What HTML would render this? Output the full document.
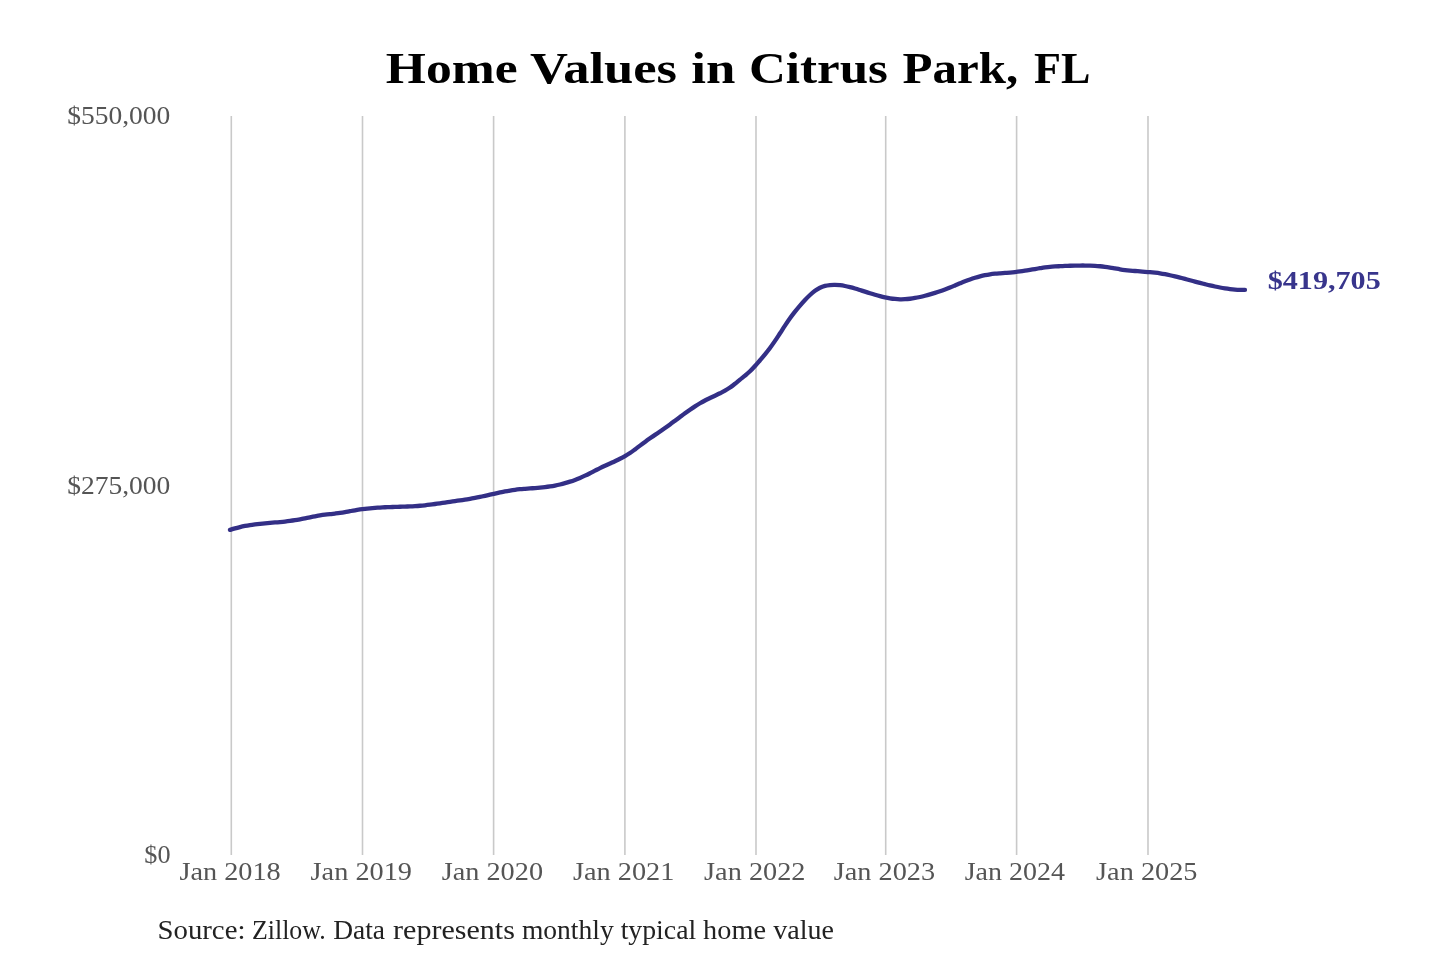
<!DOCTYPE html>
<html><head><meta charset="utf-8"><title>Home Values in Citrus Park, FL</title>
<style>
html,body{margin:0;padding:0;background:#fff;}
body{width:1440px;height:960px;overflow:hidden;font-family:"Liberation Serif",serif;}
svg{display:block;}
text{font-family:"Liberation Serif",serif;}
</style></head><body>
<svg width="1440" height="960" viewBox="0 0 1440 960">
<rect width="1440" height="960" fill="#ffffff"/>
<g stroke="#c9c9c9" stroke-width="1.6" fill="none">
<line x1="231.30" y1="116.0" x2="231.30" y2="855.0"/>
<line x1="362.50" y1="116.0" x2="362.50" y2="855.0"/>
<line x1="493.60" y1="116.0" x2="493.60" y2="855.0"/>
<line x1="624.90" y1="116.0" x2="624.90" y2="855.0"/>
<line x1="756.00" y1="116.0" x2="756.00" y2="855.0"/>
<line x1="885.70" y1="116.0" x2="885.70" y2="855.0"/>
<line x1="1016.60" y1="116.0" x2="1016.60" y2="855.0"/>
<line x1="1148.00" y1="116.0" x2="1148.00" y2="855.0"/>
</g>
<path d="M230.00 529.91 C230.83 529.64 233.33 528.82 235.00 528.34 C236.67 527.86 238.33 527.44 240.00 527.04 C241.67 526.65 243.33 526.30 245.00 525.98 C246.67 525.66 248.33 525.38 250.00 525.12 C251.67 524.85 253.33 524.63 255.00 524.41 C256.67 524.20 258.33 524.01 260.00 523.83 C261.67 523.66 263.33 523.50 265.00 523.34 C266.67 523.19 268.33 523.05 270.00 522.90 C271.67 522.76 273.33 522.62 275.00 522.48 C276.67 522.34 278.33 522.19 280.00 522.04 C281.67 521.88 283.33 521.72 285.00 521.53 C286.67 521.35 288.33 521.16 290.00 520.94 C291.67 520.72 293.33 520.48 295.00 520.21 C296.67 519.94 298.33 519.64 300.00 519.33 C301.67 519.03 303.33 518.69 305.00 518.35 C306.67 518.02 308.33 517.67 310.00 517.33 C311.67 517.00 313.33 516.65 315.00 516.33 C316.67 516.02 318.33 515.70 320.00 515.42 C321.67 515.14 323.33 514.88 325.00 514.65 C326.67 514.43 328.33 514.25 330.00 514.07 C331.67 513.88 333.33 513.73 335.00 513.55 C336.67 513.37 338.33 513.20 340.00 512.97 C341.67 512.75 343.33 512.49 345.00 512.20 C346.67 511.90 348.33 511.51 350.00 511.19 C351.67 510.87 353.33 510.54 355.00 510.26 C356.67 509.97 358.33 509.72 360.00 509.48 C361.67 509.24 363.33 509.03 365.00 508.83 C366.67 508.63 368.33 508.46 370.00 508.30 C371.67 508.14 373.33 508.00 375.00 507.87 C376.67 507.75 378.33 507.64 380.00 507.54 C381.67 507.44 383.33 507.35 385.00 507.27 C386.67 507.20 388.33 507.13 390.00 507.07 C391.67 507.01 393.33 506.96 395.00 506.91 C396.67 506.86 398.33 506.82 400.00 506.77 C401.67 506.72 403.33 506.67 405.00 506.61 C406.67 506.55 408.33 506.49 410.00 506.41 C411.67 506.33 413.33 506.24 415.00 506.14 C416.67 506.03 418.33 505.91 420.00 505.76 C421.67 505.62 423.33 505.45 425.00 505.27 C426.67 505.09 428.33 504.89 430.00 504.68 C431.67 504.46 433.33 504.24 435.00 504.00 C436.67 503.77 438.33 503.53 440.00 503.28 C441.67 503.04 443.33 502.78 445.00 502.54 C446.67 502.29 448.33 502.04 450.00 501.80 C451.67 501.55 453.33 501.32 455.00 501.08 C456.67 500.84 458.33 500.60 460.00 500.36 C461.67 500.11 463.33 499.87 465.00 499.61 C466.67 499.35 468.33 499.08 470.00 498.80 C471.67 498.51 473.33 498.21 475.00 497.90 C476.67 497.58 478.33 497.24 480.00 496.89 C481.67 496.54 483.33 496.17 485.00 495.80 C486.67 495.43 488.33 495.05 490.00 494.67 C491.67 494.30 493.33 493.91 495.00 493.54 C496.67 493.17 498.33 492.80 500.00 492.45 C501.67 492.10 503.33 491.75 505.00 491.43 C506.67 491.11 508.33 490.81 510.00 490.53 C511.67 490.26 513.33 490.01 515.00 489.79 C516.67 489.57 518.33 489.39 520.00 489.22 C521.67 489.05 523.33 488.92 525.00 488.78 C526.67 488.65 528.33 488.54 530.00 488.42 C531.67 488.30 533.33 488.19 535.00 488.06 C536.67 487.94 538.33 487.81 540.00 487.65 C541.67 487.50 543.33 487.33 545.00 487.13 C546.67 486.93 548.33 486.70 550.00 486.44 C551.67 486.17 553.33 485.88 555.00 485.55 C556.67 485.23 558.33 484.87 560.00 484.47 C561.67 484.08 563.33 483.65 565.00 483.18 C566.67 482.71 568.33 482.21 570.00 481.66 C571.67 481.12 573.33 480.54 575.00 479.91 C576.67 479.29 578.33 478.62 580.00 477.92 C581.67 477.21 583.33 476.45 585.00 475.67 C586.67 474.89 588.33 474.07 590.00 473.24 C591.67 472.41 593.33 471.53 595.00 470.69 C596.67 469.85 598.33 468.99 600.00 468.17 C601.67 467.36 603.33 466.58 605.00 465.80 C606.67 465.03 608.33 464.28 610.00 463.52 C611.67 462.75 613.33 462.00 615.00 461.21 C616.67 460.42 618.33 459.64 620.00 458.79 C621.67 457.94 623.33 457.08 625.00 456.12 C626.67 455.16 628.33 454.14 630.00 453.02 C631.67 451.91 633.33 450.65 635.00 449.42 C636.67 448.18 638.33 446.85 640.00 445.60 C641.67 444.35 643.33 443.11 645.00 441.91 C646.67 440.70 648.33 439.52 650.00 438.35 C651.67 437.18 653.33 436.04 655.00 434.89 C656.67 433.73 658.33 432.60 660.00 431.44 C661.67 430.29 663.33 429.14 665.00 427.97 C666.67 426.80 668.33 425.62 670.00 424.41 C671.67 423.20 673.33 421.96 675.00 420.72 C676.67 419.49 678.33 418.22 680.00 416.98 C681.67 415.74 683.33 414.49 685.00 413.28 C686.67 412.06 688.33 410.85 690.00 409.69 C691.67 408.53 693.33 407.39 695.00 406.32 C696.67 405.24 698.33 404.21 700.00 403.24 C701.67 402.28 703.33 401.39 705.00 400.52 C706.67 399.66 708.33 398.86 710.00 398.05 C711.67 397.25 713.33 396.48 715.00 395.69 C716.67 394.90 718.33 394.13 720.00 393.29 C721.67 392.46 723.33 391.65 725.00 390.69 C726.67 389.74 728.33 388.73 730.00 387.58 C731.67 386.43 733.33 385.08 735.00 383.77 C736.67 382.45 738.33 381.03 740.00 379.68 C741.67 378.34 743.33 377.09 745.00 375.70 C746.67 374.30 748.33 372.92 750.00 371.31 C751.67 369.70 753.33 367.88 755.00 366.03 C756.67 364.18 758.33 362.18 760.00 360.23 C761.67 358.28 763.33 356.36 765.00 354.33 C766.67 352.29 768.33 350.24 770.00 348.00 C771.67 345.76 773.33 343.35 775.00 340.90 C776.67 338.44 778.33 335.84 780.00 333.29 C781.67 330.75 783.33 328.12 785.00 325.62 C786.67 323.12 788.33 320.63 790.00 318.30 C791.67 315.98 793.33 313.79 795.00 311.67 C796.67 309.56 798.33 307.56 800.00 305.62 C801.67 303.67 803.33 301.78 805.00 300.01 C806.67 298.24 808.33 296.53 810.00 295.01 C811.67 293.48 813.33 292.06 815.00 290.85 C816.67 289.65 818.33 288.60 820.00 287.78 C821.67 286.96 823.33 286.39 825.00 285.94 C826.67 285.48 828.33 285.25 830.00 285.07 C831.67 284.89 833.33 284.85 835.00 284.88 C836.67 284.90 838.33 285.04 840.00 285.23 C841.67 285.42 843.33 285.69 845.00 286.01 C846.67 286.33 848.33 286.73 850.00 287.15 C851.67 287.57 853.33 288.04 855.00 288.53 C856.67 289.01 858.33 289.53 860.00 290.05 C861.67 290.57 863.33 291.11 865.00 291.64 C866.67 292.17 868.33 292.70 870.00 293.22 C871.67 293.74 873.33 294.25 875.00 294.74 C876.67 295.22 878.33 295.69 880.00 296.13 C881.67 296.56 883.33 296.97 885.00 297.34 C886.67 297.70 888.33 298.03 890.00 298.31 C891.67 298.58 893.33 298.81 895.00 298.98 C896.67 299.14 898.33 299.25 900.00 299.29 C901.67 299.32 903.33 299.29 905.00 299.20 C906.67 299.11 908.33 298.95 910.00 298.75 C911.67 298.55 913.33 298.29 915.00 297.99 C916.67 297.70 918.33 297.35 920.00 296.98 C921.67 296.60 923.33 296.19 925.00 295.76 C926.67 295.32 928.33 294.86 930.00 294.38 C931.67 293.91 933.33 293.42 935.00 292.90 C936.67 292.38 938.33 291.85 940.00 291.29 C941.67 290.73 943.33 290.14 945.00 289.53 C946.67 288.91 948.33 288.26 950.00 287.58 C951.67 286.90 953.33 286.17 955.00 285.45 C956.67 284.74 958.33 284.00 960.00 283.30 C961.67 282.61 963.33 281.92 965.00 281.28 C966.67 280.64 968.33 280.02 970.00 279.44 C971.67 278.85 973.33 278.30 975.00 277.79 C976.67 277.28 978.33 276.81 980.00 276.38 C981.67 275.95 983.33 275.56 985.00 275.22 C986.67 274.87 988.33 274.58 990.00 274.33 C991.67 274.08 993.33 273.89 995.00 273.72 C996.67 273.54 998.33 273.42 1000.00 273.29 C1001.67 273.16 1003.33 273.07 1005.00 272.95 C1006.67 272.82 1008.33 272.71 1010.00 272.56 C1011.67 272.41 1013.33 272.25 1015.00 272.06 C1016.67 271.87 1018.33 271.65 1020.00 271.42 C1021.67 271.20 1023.33 270.95 1025.00 270.69 C1026.67 270.43 1028.33 270.16 1030.00 269.88 C1031.67 269.60 1033.33 269.30 1035.00 269.02 C1036.67 268.73 1038.33 268.44 1040.00 268.17 C1041.67 267.91 1043.33 267.64 1045.00 267.42 C1046.67 267.20 1048.33 266.99 1050.00 266.83 C1051.67 266.67 1053.33 266.56 1055.00 266.45 C1056.67 266.34 1058.33 266.27 1060.00 266.19 C1061.67 266.11 1063.33 266.04 1065.00 265.97 C1066.67 265.90 1068.33 265.83 1070.00 265.77 C1071.67 265.71 1073.33 265.65 1075.00 265.62 C1076.67 265.58 1078.33 265.54 1080.00 265.53 C1081.67 265.52 1083.33 265.51 1085.00 265.53 C1086.67 265.55 1088.33 265.58 1090.00 265.64 C1091.67 265.70 1093.33 265.77 1095.00 265.87 C1096.67 265.97 1098.33 266.10 1100.00 266.25 C1101.67 266.40 1103.33 266.58 1105.00 266.79 C1106.67 267.00 1108.33 267.25 1110.00 267.52 C1111.67 267.79 1113.33 268.11 1115.00 268.41 C1116.67 268.71 1118.33 269.03 1120.00 269.30 C1121.67 269.56 1123.33 269.80 1125.00 270.01 C1126.67 270.22 1128.33 270.40 1130.00 270.57 C1131.67 270.73 1133.33 270.87 1135.00 271.01 C1136.67 271.15 1138.33 271.27 1140.00 271.40 C1141.67 271.52 1143.33 271.64 1145.00 271.78 C1146.67 271.91 1148.33 272.04 1150.00 272.20 C1151.67 272.35 1153.33 272.52 1155.00 272.71 C1156.67 272.91 1158.33 273.12 1160.00 273.38 C1161.67 273.63 1163.33 273.91 1165.00 274.22 C1166.67 274.53 1168.33 274.87 1170.00 275.23 C1171.67 275.59 1173.33 275.98 1175.00 276.38 C1176.67 276.77 1178.33 277.19 1180.00 277.62 C1181.67 278.04 1183.33 278.48 1185.00 278.92 C1186.67 279.36 1188.33 279.81 1190.00 280.26 C1191.67 280.71 1193.33 281.16 1195.00 281.60 C1196.67 282.04 1198.33 282.48 1200.00 282.91 C1201.67 283.34 1203.33 283.77 1205.00 284.18 C1206.67 284.59 1208.33 285.00 1210.00 285.38 C1211.67 285.77 1213.33 286.14 1215.00 286.49 C1216.67 286.84 1218.33 287.18 1220.00 287.49 C1221.67 287.80 1223.33 288.09 1225.00 288.35 C1226.67 288.61 1228.33 288.84 1230.00 289.05 C1231.67 289.25 1233.33 289.43 1235.00 289.57 C1236.67 289.71 1238.33 289.81 1240.00 289.88 C1241.67 289.95 1244.17 289.96 1245.00 289.97" fill="none" stroke="#332f86" stroke-width="4.3" stroke-linecap="round" stroke-linejoin="round"/>
<defs><filter id="sf" x="-5%" y="-20%" width="110%" height="140%"><feGaussianBlur stdDeviation="0.4"/></filter></defs>
<g filter="url(#sf)">
<text x="385.81" y="82.70" font-size="43.50" font-weight="bold" textLength="131.79" lengthAdjust="spacingAndGlyphs" fill="#000">Home</text>
<text x="530.04" y="82.70" font-size="43.50" font-weight="bold" textLength="147.04" lengthAdjust="spacingAndGlyphs" fill="#000">Values</text>
<text x="691.29" y="82.70" font-size="43.50" font-weight="bold" textLength="44.06" lengthAdjust="spacingAndGlyphs" fill="#000">in</text>
<text x="748.90" y="82.70" font-size="43.50" font-weight="bold" textLength="139.02" lengthAdjust="spacingAndGlyphs" fill="#000">Citrus</text>
<text x="902.62" y="82.70" font-size="43.50" font-weight="bold" textLength="115.54" lengthAdjust="spacingAndGlyphs" fill="#000">Park,</text>
<text x="1033.99" y="82.70" font-size="43.50" font-weight="bold" textLength="56.38" lengthAdjust="spacingAndGlyphs" fill="#000">FL</text>
<text x="67.23" y="124.40" font-size="25.80" textLength="103.17" lengthAdjust="spacingAndGlyphs" fill="#555">$550,000</text>
<text x="67.23" y="493.60" font-size="25.80" textLength="103.17" lengthAdjust="spacingAndGlyphs" fill="#555">$275,000</text>
<text x="144.28" y="863.20" font-size="25.80" textLength="26.23" lengthAdjust="spacingAndGlyphs" fill="#555">$0</text>
<text x="179.41" y="879.60" font-size="26.00" textLength="101.36" lengthAdjust="spacingAndGlyphs" fill="#555">Jan 2018</text>
<text x="310.61" y="879.60" font-size="26.00" textLength="101.36" lengthAdjust="spacingAndGlyphs" fill="#555">Jan 2019</text>
<text x="441.71" y="879.60" font-size="26.00" textLength="101.36" lengthAdjust="spacingAndGlyphs" fill="#555">Jan 2020</text>
<text x="573.01" y="879.60" font-size="26.00" textLength="101.36" lengthAdjust="spacingAndGlyphs" fill="#555">Jan 2021</text>
<text x="704.11" y="879.60" font-size="26.00" textLength="101.36" lengthAdjust="spacingAndGlyphs" fill="#555">Jan 2022</text>
<text x="833.81" y="879.60" font-size="26.00" textLength="101.36" lengthAdjust="spacingAndGlyphs" fill="#555">Jan 2023</text>
<text x="964.72" y="879.60" font-size="26.00" textLength="100.26" lengthAdjust="spacingAndGlyphs" fill="#555">Jan 2024</text>
<text x="1096.11" y="879.60" font-size="26.00" textLength="101.36" lengthAdjust="spacingAndGlyphs" fill="#555">Jan 2025</text>
<text x="1267.78" y="288.90" font-size="24.70" font-weight="bold" textLength="112.92" lengthAdjust="spacingAndGlyphs" fill="#38358c">$419,705</text>
<text x="157.53" y="939.00" font-size="26.50" textLength="87.89" lengthAdjust="spacingAndGlyphs" fill="#222">Source:</text>
<text x="252.02" y="939.00" font-size="26.50" textLength="73.71" lengthAdjust="spacingAndGlyphs" fill="#222">Zillow.</text>
<text x="333.16" y="939.00" font-size="26.50" textLength="51.87" lengthAdjust="spacingAndGlyphs" fill="#222">Data</text>
<text x="393.07" y="939.00" font-size="26.50" textLength="121.86" lengthAdjust="spacingAndGlyphs" fill="#222">represents</text>
<text x="521.96" y="939.00" font-size="26.50" textLength="91.69" lengthAdjust="spacingAndGlyphs" fill="#222">monthly</text>
<text x="620.65" y="939.00" font-size="26.50" textLength="75.53" lengthAdjust="spacingAndGlyphs" fill="#222">typical</text>
<text x="703.13" y="939.00" font-size="26.50" textLength="62.80" lengthAdjust="spacingAndGlyphs" fill="#222">home</text>
<text x="773.30" y="939.00" font-size="26.50" textLength="60.67" lengthAdjust="spacingAndGlyphs" fill="#222">value</text>
</g>
</svg>
</body></html>
